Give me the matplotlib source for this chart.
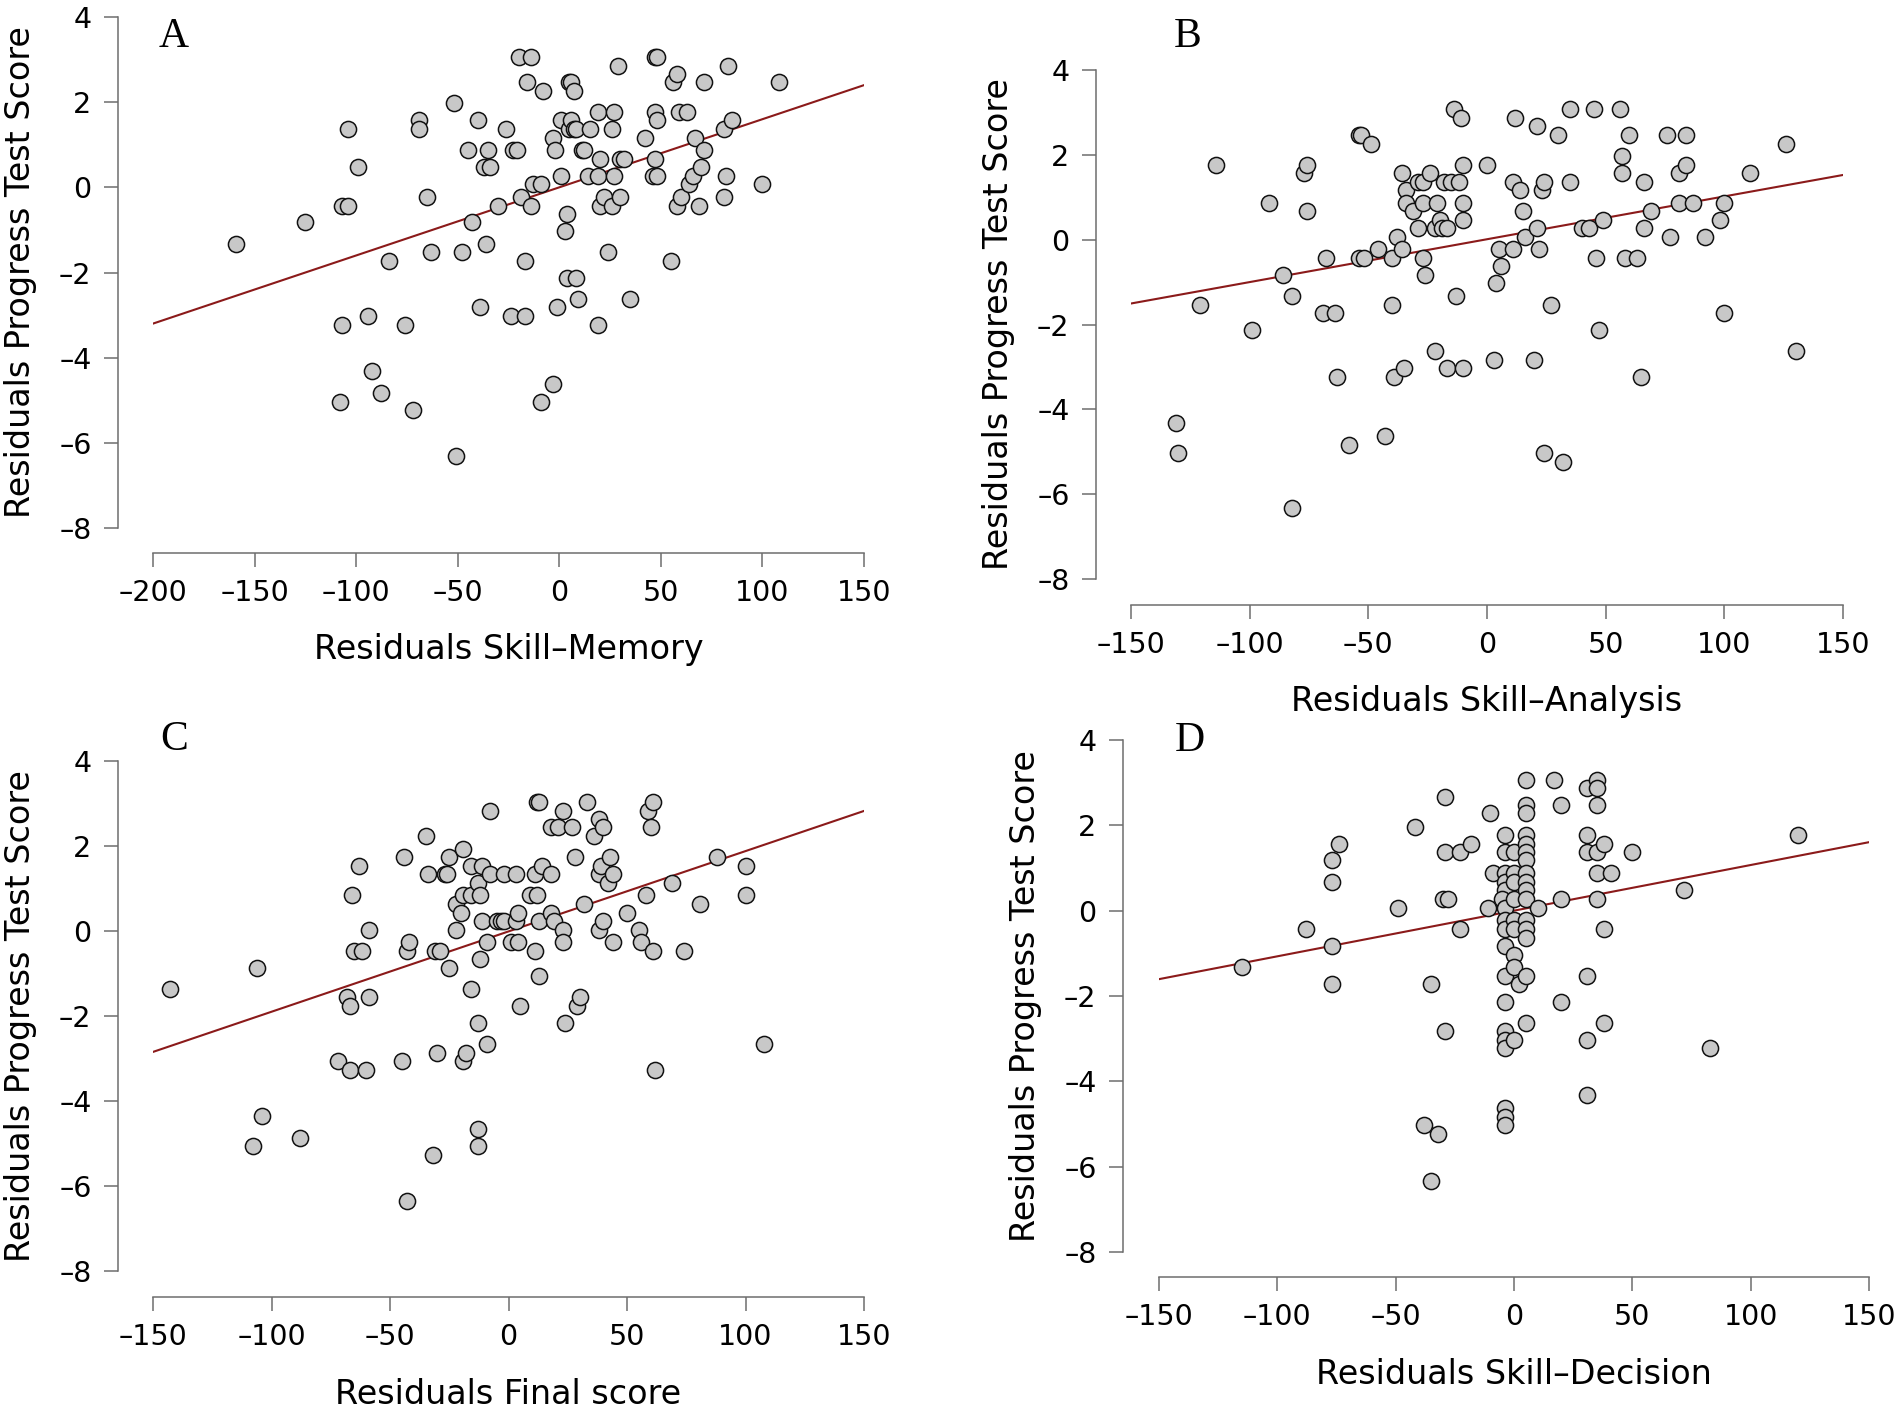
import numpy as np
import matplotlib.pyplot as plt

# ---- data ----
a_x = [-159, -125, -107, -104, -104, -99, -107, -108, -94, -92, -88, -84, -76, -72, -69, -69,
       -65, -63, -52, -51, -48, -45, -43, -40, -39, -37, -36, -35, -34, -30, -26, -24, -23, -21,
       -19, -20, -14, -16, -17, -17, -14, -13, -9, -8, -9, -3, -2, -3, -1, 1, 1, 3, 4, 4, 5, 5,
       6, 7, 6, 7, 8, 8, 9, 11, 12, 14, 15, 19, 20, 19, 20, 19, 22, 24, 26, 26, 27, 27, 29, 30,
       32, 30, 35, 42, 46, 47, 47, 47, 48, 48, 48, 55, 56, 58, 58, 59, 60, 63, 64, 66, 67, 69,
       70, 71, 71, 81, 81, 82, 83, 85, 100, 108]
a_y = [-1.33, -0.82, -0.43, -0.43, 1.37, 0.47, -3.23, -5.03, -3.03, -4.32, -4.83, -1.72, -3.23,
       -5.23, 1.57, 1.37, -0.22, -1.53, 1.97, -6.32, -1.53, 0.87, -0.82, 1.57, -2.82, 0.47, -1.33,
       0.87, 0.47, -0.43, 1.37, -3.03, 0.87, 0.87, -0.22, 3.07, 3.07, 2.47, -1.72, -3.03, -0.43,
       0.08, 0.08, 2.27, -5.03, 1.17, 0.87, -4.62, -2.82, 1.57, 0.27, -1.03, -0.63, -2.13, 1.37,
       2.47, 2.47, 2.27, 1.57, 1.37, 1.37, -2.13, -2.63, 0.87, 0.87, 0.27, 1.37, 1.77, 0.67, 0.27,
       -0.43, -3.23, -0.22, -1.53, -0.43, 1.37, 1.77, 0.27, 2.86, 0.67, 0.67, -0.22, -2.63, 1.17,
       0.27, 0.67, 1.77, 3.07, 3.07, 0.27, 1.57, -1.72, 2.47, 2.67, -0.43, 1.77, -0.22, 1.77,
       0.08, 0.27, 1.17, -0.43, 0.47, 2.47, 0.87, -0.22, 1.37, 0.27, 2.86, 1.57, 0.08, 2.47]

b_x = [-131, -130, -121, -114, -99, -92, -86, -82, -82, -77, -76, -76, -68, -69, -64, -63, -58,
       -54, -53, -54, -52, -49, -46, -43, -40, -40, -38, -39, -36, -36, -35, -34, -34, -31, -29,
       -29, -27, -27, -27, -26, -24, -22, -21, -22, -20, -19, -18, -17, -17, -15, -14, -13, -12,
       -11, -10, -10, -10, -10, 0, 3, 4, 5, 6, 11, 11, 12, 14, 15, 16, 20, 21, 21, 22, 23, 24,
       24, 27, 30, 32, 35, 35, 40, 43, 45, 46, 47, 49, 56, 57, 57, 58, 60, 63, 65, 66, 66, 69,
       76, 77, 81, 81, 84, 84, 87, 92, 98, 100, 100, 111, 126, 130]
b_y = [-4.33, -5.03, -1.53, 1.77, -2.13, 0.87, -0.83, -1.33, -6.33, 1.57, 1.77, 0.68, -0.43,
       -1.73, -1.73, -3.24, -4.83, 2.47, 2.47, -0.43, -0.43, 2.26, -0.22, -4.63, -0.43, -1.53,
       0.07, -3.24, 1.57, -0.22, -3.03, 1.17, 0.87, 0.68, 1.37, 0.27, 1.37, 0.87, -0.43, -0.83,
       1.57, -2.63, 0.87, 0.27, 0.47, 0.27, 1.37, 0.27, -3.03, 1.37, 3.07, -1.33, 1.37, 2.87,
       1.77, 0.87, 0.47, -3.03, 1.77, -2.83, -1.03, -0.22, -0.63, -0.22, 1.37, 2.87, 1.17, 0.68,
       0.07, -2.83, 2.67, 0.27, -0.22, 1.17, 1.37, -5.03, -1.53, 2.47, -5.23, 1.37, 3.07, 0.27,
       0.27, 3.07, -0.43, -2.13, 0.47, 3.07, 1.97, 1.57, -0.43, 2.47, -0.43, -3.24, 1.37, 0.27,
       0.68, 2.47, 0.07, 1.57, 0.87, 2.47, 1.77, 0.87, 0.07, 0.47, 0.87, -1.73, 1.57, 2.26, -2.63]

c_x = [-143, -106, -108, -104, -88, -72, -68, -67, -67, -66, -65, -62, -63, -60, -59, -59, -45,
       -44, -43, -42, -43, -35, -34, -32, -31, -30, -29, -27, -26, -25, -25, -22, -22, -20, -19,
       -19, -19, -18, -16, -16, -16, -13, -13, -13, -13, -12, -12, -11, -11, -9, -9, -8, -8, -5,
       -3, -2, -2, 1, 3, 3, 4, 4, 5, 9, 11, 11, 12, 12, 13, 13, 13, 14, 18, 18, 18, 19, 21, 23,
       23, 23, 24, 27, 28, 29, 30, 32, 33, 36, 38, 38, 38, 39, 40, 40, 42, 43, 44, 44, 50, 55,
       56, 58, 59, 60, 61, 61, 62, 69, 74, 81, 88, 100, 100, 108]
c_y = [-1.36, -0.86, -5.06, -4.35, -4.86, -3.06, -1.56, -1.77, -3.26, 0.84, -0.46, -0.46, 1.54,
       -3.26, 0.03, -1.56, -3.06, 1.74, -0.46, -0.26, -6.36, 2.24, 1.34, -5.26, -0.46, -2.86,
       -0.46, 1.34, 1.34, 1.74, -0.86, 0.64, 0.03, 0.43, 1.94, 0.84, -3.06, -2.86, 1.54, -1.36,
       0.84, 1.13, -2.16, -4.66, -5.06, 0.84, -0.66, 1.54, 0.23, -0.26, -2.66, 1.34, 2.83, 0.23,
       0.23, 1.34, 0.23, -0.26, 0.23, 1.34, 0.43, -0.26, -1.77, 0.84, -0.46, 1.34, 0.84, 3.03,
       3.03, 0.23, -1.06, 1.54, 1.34, 2.44, 0.43, 0.23, 2.44, 2.83, 0.03, -0.26, -2.16, 2.44,
       1.74, -1.77, -1.56, 0.64, 3.03, 2.24, 2.64, 1.34, 0.03, 1.54, 2.44, 0.23, 1.13, 1.74, 1.34,
       -0.26, 0.43, 0.03, -0.26, 0.84, 2.83, 2.44, 3.03, -0.46, -3.26, 1.13, -0.46, 0.64, 1.74,
       1.54, 0.84, -2.66]

d_x = [-115, -88, -77, -77, -77, -77, -74, -49, -42, -38, -35, -35, -32, -30, -29, -29, -29,
       -28, -23, -23, -18, -11, -10, -9, -4, -4, -4, -4, -4, -5, -4, -4, -4, -4, -4, -4, -4, -4,
       -4, -4, -4, -4, 0, 0, 0, 0, 0, 0, 0, 0, 0, 2, 5, 5, 5, 5, 5, 5, 5, 5, 5, 5, 5, 5, 5, 5,
       5, 5, 10, 17, 20, 20, 20, 31, 31, 31, 31, 31, 31, 35, 35, 35, 35, 35, 35, 38, 38, 38, 41,
       50, 72, 83, 120]
d_y = [-1.33, -0.43, 1.18, 0.68, -0.83, -1.73, 1.57, 0.07, 1.97, -5.03, -1.73, -6.33, -5.23,
       0.28, 2.67, 1.38, -2.83, 0.28, 1.38, -0.43, 1.57, 0.07, 2.28, 0.88, 1.77, 1.38, 0.88,
       0.68, 0.48, 0.28, 0.07, -0.23, -0.43, -0.83, -1.53, -2.13, -2.83, -3.03, -3.23, -4.63,
       -4.83, -5.03, 1.38, 0.88, 0.68, 0.28, -0.23, -0.43, -1.03, -1.33, -3.03, -1.73, 3.07,
       2.47, 2.28, 1.77, 1.57, 1.38, 1.18, 0.88, 0.68, 0.48, 0.28, -0.23, -0.43, -0.63, -1.53,
       -2.63, 0.07, 3.07, 2.47, 0.28, -2.13, 2.87, 1.77, 1.38, -1.53, -3.03, -4.33, 3.07, 2.87,
       2.47, 1.38, 0.88, 0.28, 1.57, -0.43, -2.63, 0.88, 1.38, 0.48, -3.23, 1.77]

# fitted lines (intercept, slope)
intercepts = [0.0, 0.01, -0.01, 0.0]
slopes = [0.016, 0.0101, 0.0189, 0.0107]

panel_letters = ["A", "B", "C", "D"]
x_labels = ["Residuals Skill\u2013Memory", "Residuals Skill\u2013Analysis",
            "Residuals Final score", "Residuals Skill\u2013Decision"]
y_label = "Residuals Progress Test Score"
x_ticks = [[-200, -150, -100, -50, 0, 50, 100, 150]] + [[-150, -100, -50, 0, 50, 100, 150]] * 3
y_ticks = [4, 2, 0, -2, -4, -6, -8]

# ---- layout (pixel positions in the 1902x1407 image) ----
W, H = 1902, 1407
# x of first tick, x of last tick, y of top tick, y of bottom tick, y-spine x, x-spine y
boxes = [(153, 864, 17, 528, 118, 553),
         (1131, 1843, 70, 579, 1096, 605),
         (153, 864, 761, 1271, 118, 1297),
         (1159, 1869, 740, 1252, 1123, 1277)]
letter_pos = [(174, 37), (1188, 37), (174, 740), (1190, 741)]

grey = "#6e6e6e"


def fmt(v):
    return str(v).replace("-", "\u2013")


fig = plt.figure(figsize=(W / 100, H / 100), dpi=100)

data = [(a_x, a_y), (b_x, b_y), (c_x, c_y), (d_x, d_y)]
for i, (xs, ys) in enumerate(data):
    x0, x1, yt, yb, ysp, xsp = boxes[i]
    ax = fig.add_axes([x0 / W, 1 - yb / H, (x1 - x0) / W, (yb - yt) / H])
    ax.set_xlim(x_ticks[i][0], x_ticks[i][-1])
    ax.set_ylim(-8, 4)
    ax.axline((0, intercepts[i]), slope=slopes[i], color="#8b1a1a", lw=1.5, zorder=2)
    ax.scatter(xs, ys, s=135, facecolor="#c8c8c8", edgecolor="#111111", linewidth=1.1,
               zorder=3, clip_on=False)
    for s in ["top", "right"]:
        ax.spines[s].set_visible(False)
    ax.spines["left"].set_position(("outward", (x0 - ysp) * 0.72))
    ax.spines["bottom"].set_position(("outward", (xsp - yb) * 0.72))
    ax.spines["left"].set_bounds(-8, 4)
    ax.spines["bottom"].set_bounds(x_ticks[i][0], x_ticks[i][-1])
    for s in ["left", "bottom"]:
        ax.spines[s].set_linewidth(1.1)
        ax.spines[s].set_color(grey)
    ax.set_xticks(x_ticks[i], [fmt(t) for t in x_ticks[i]])
    ax.set_yticks(y_ticks, [fmt(t) for t in y_ticks])
    ax.tick_params(length=10, width=1.1, color=grey, labelsize=20.5, pad=9)
    ax.patch.set_visible(False)

    lx, ly = letter_pos[i]
    fig.text(lx / W, 1 - ly / H, panel_letters[i], family="Liberation Serif",
             fontsize=30, ha="center", va="center")
    fig.text((ysp - 97) / W, 1 - (yt + yb) / 2 / H, y_label, family="DejaVu Sans",
             fontsize=24, rotation=90, ha="center", va="center")
    fig.text((x0 + x1) / 2 / W, 1 - (xsp + 97) / H, x_labels[i], family="DejaVu Sans",
             fontsize=24, ha="center", va="center")

fig.savefig("out.png", dpi=100, facecolor="white")
